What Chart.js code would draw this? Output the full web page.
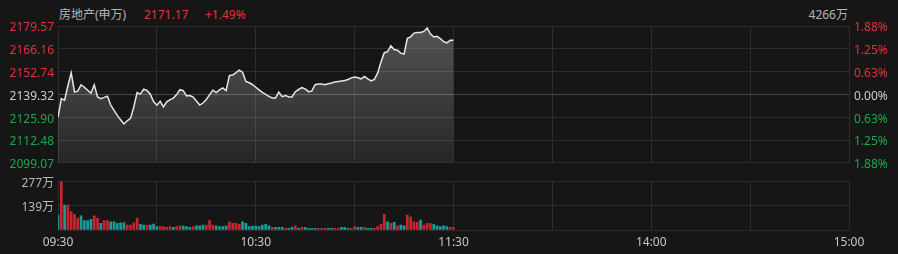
<!DOCTYPE html>
<html>
<head>
<meta charset="utf-8">
<script src="https://cdn.jsdelivr.net/npm/chart.js@4.4.1/dist/chart.umd.min.js"></script>
<style>
  html, body { margin: 0; padding: 0; background: #161616; }
  #wrap { position: relative; width: 898px; height: 254px; overflow: hidden; background: #161616;
          font-family: "Noto Sans", "Noto Sans CJK SC", sans-serif; font-size: 12px; }
  .hd { position: absolute; top: 7px; line-height: 15px; white-space: nowrap; }
  canvas { position: absolute; left: 0; }
</style>
</head>
<body>
<div id="wrap">
  <div class="hd" id="hName" style="left:59px;color:#b4b4b4;"></div>
  <div class="hd" id="hPrice" style="left:144px;color:#e0343c;"></div>
  <div class="hd" id="hPct" style="left:205px;color:#e0343c;"></div>
  <div class="hd" id="hVol" style="right:50px;color:#b4b4b4;"></div>
  <canvas id="priceChart" width="898" height="175" style="top:0px;"></canvas>
  <canvas id="volChart" width="898" height="84" style="top:170px;"></canvas>
</div>
<script>
// ---- header texts ----
const indexName = '房地产(申万)';
const lastPrice = '2171.17';
const lastPct = '+1.49%';
const totalVol = '4266万';

// ---- axes ----
const priceTicks = [2099.07, 2112.48, 2125.90, 2139.32, 2152.74, 2166.16, 2179.57];
const pctLabels = ['1.88%', '1.25%', '0.63%', '0.00%', '0.63%', '1.25%', '1.88%'];
const volTicks = [0, 139, 277];
const volTickLabels = ['', '139万', '277万'];
const gridMinutes = [0, 30, 60, 90, 120, 150, 180, 210, 240];
const timeLabels = ['09:30', '', '10:30', '', '11:30', '', '14:00', '', '15:00'];

// ---- series (one value per minute from 09:30) ----
const priceValues = [
  2125.81, 2136.85, 2135.98, 2144.41, 2151.96, 2140.75, 2141.21, 2144.99, 2143.54, 2141.79,
  2140.05, 2144.99, 2137.84, 2136.85, 2137.55, 2138.30, 2133.07, 2129.88, 2126.97, 2124.36,
  2121.92, 2123.77, 2125.23, 2131.91, 2140.34, 2139.47, 2142.37, 2141.68, 2139.47, 2135.11,
  2132.96, 2135.28, 2132.03, 2134.93, 2136.27, 2137.14, 2139.18, 2142.08, 2141.50, 2138.42,
  2138.60, 2137.72, 2135.40, 2133.07, 2134.24, 2136.27, 2139.18, 2141.79, 2140.34, 2141.97,
  2143.13, 2141.50, 2150.39, 2150.74, 2152.08, 2153.53, 2152.37, 2146.91, 2146.15, 2145.16,
  2143.54, 2141.97, 2140.46, 2139.29, 2138.13, 2137.26, 2137.26, 2140.63, 2138.01, 2138.71,
  2137.84, 2137.84, 2140.92, 2142.20, 2143.36, 2142.49, 2140.92, 2141.21, 2144.99, 2145.40,
  2145.40, 2144.99, 2145.57, 2145.98, 2146.56, 2146.96, 2147.14, 2147.49, 2148.07, 2149.06,
  2149.52, 2149.06, 2148.48, 2149.93, 2148.48, 2147.31, 2148.19, 2151.96, 2158.36, 2163.88,
  2164.46, 2167.95, 2165.74, 2165.33, 2163.59, 2163.01, 2172.30, 2173.18, 2175.39, 2175.79,
  2175.79, 2176.37, 2178.41, 2174.92, 2173.12, 2173.47, 2172.19, 2170.39, 2169.69, 2171.14,
  2171.17
];
const volValues = [
  85, 277, 141, 141, 104, 89, 66, 81, 53, 53,
  60, 81, 66, 38, 53, 53, 47, 47, 38, 41,
  41, 28, 28, 41, 66, 32, 28, 28, 28, 34,
  19, 19, 19, 15, 19, 15, 19, 24, 22, 19,
  15, 19, 24, 24, 28, 28, 53, 28, 24, 19,
  19, 24, 47, 38, 38, 32, 47, 38, 19, 22,
  22, 19, 28, 32, 24, 15, 15, 15, 15, 9,
  9, 15, 23, 9, 15, 15, 9, 9, 9, 9,
  9, 9, 9, 9, 9, 9, 15, 15, 9, 9,
  19, 15, 15, 15, 9, 9, 9, 19, 32, 89,
  47, 38, 43, 24, 28, 24, 85, 75, 47, 43,
  56, 28, 38, 38, 32, 24, 19, 24, 19, 15,
  15
];
// 1 = red (up) bar, 0 = teal (down) bar
const volUp = [
  0, 1, 0, 1, 1, 1, 1, 0, 0, 0,
  0, 1, 1, 0, 1, 1, 0, 0, 0, 0,
  0, 1, 1, 1, 1, 0, 0, 1, 0, 0,
  0, 1, 1, 1, 1, 0, 1, 1, 0, 0,
  0, 1, 0, 0, 0, 1, 1, 1, 0, 0,
  0, 0, 1, 1, 1, 1, 0, 0, 0, 0,
  0, 0, 0, 0, 0, 1, 0, 0, 0, 1,
  0, 0, 1, 0, 1, 0, 0, 0, 0, 1,
  1, 1, 0, 0, 1, 1, 0, 0, 0, 1,
  1, 0, 0, 1, 0, 0, 1, 1, 1, 1,
  0, 1, 0, 1, 0, 0, 1, 1, 1, 1,
  0, 1, 1, 1, 0, 0, 0, 0, 0, 1,
  1
];

// ---- style ----
const RED = '#e0343c';
const GREEN = '#1ea64c';
const MID = '#c9cdd3';
const GRID = '#2d2d2d';
const GRID_MID = '#474747';
const BAR_RED = '#c9252e';
const BAR_TEAL = '#1b9c96';
const FONT = { family: '"Noto Sans", "Noto Sans CJK SC", sans-serif', size: 12 };

document.getElementById('hName').textContent = indexName;
document.getElementById('hPrice').textContent = lastPrice;
document.getElementById('hPct').textContent = lastPct;
document.getElementById('hVol').textContent = totalVol;

const pricePoints = priceValues.map((v, i) => ({ x: i, y: v }));
const volPoints = volValues.map((v, i) => ({ x: i, y: v }));

function tickColor(idx) {
  if (idx < 3) return GREEN;
  if (idx === 3) return MID;
  return RED;
}
const setGridTicks = (scale) => { scale.ticks = gridMinutes.map(v => ({ value: v })); };

new Chart(document.getElementById('priceChart'), {
  type: 'line',
  data: {
    datasets: [{
      data: pricePoints,
      borderColor: '#e6e6e6',
      borderWidth: 1.5,
      pointRadius: 0,
      tension: 0,
      fill: 'start',
      backgroundColor: (ctx) => {
        const ca = ctx.chart.chartArea;
        if (!ca) return 'rgba(255,255,255,0.15)';
        const g = ctx.chart.ctx.createLinearGradient(0, ca.top, 0, ca.bottom);
        g.addColorStop(0, 'rgba(255,255,255,0.27)');
        g.addColorStop(1, 'rgba(255,255,255,0.07)');
        return g;
      }
    }]
  },
  options: {
    responsive: false,
    animation: false,
    devicePixelRatio: 1,
    layout: { padding: { top: 26, left: 0, right: 0, bottom: 0 } },
    plugins: { legend: { display: false }, tooltip: { enabled: false } },
    scales: {
      x: {
        type: 'linear', min: 0, max: 240,
        afterBuildTicks: setGridTicks,
        afterFit: (s) => { s.height = 10; },
        ticks: { display: false },
        grid: { color: GRID, drawTicks: false },
        border: { display: false }
      },
      y: {
        position: 'left',
        min: priceTicks[0], max: priceTicks[priceTicks.length - 1],
        afterBuildTicks: (s) => { s.ticks = priceTicks.map(v => ({ value: v })); },
        afterFit: (s) => { s.width = 58; },
        ticks: {
          font: FONT, padding: 4, labelOffset: 2,
          color: (ctx) => tickColor(ctx.index),
          callback: (v, i) => priceTicks[i].toFixed(2)
        },
        grid: { color: (ctx) => (ctx.index === 3 ? GRID_MID : GRID), drawTicks: false },
        border: { display: false }
      },
      y2: {
        position: 'right',
        min: priceTicks[0], max: priceTicks[priceTicks.length - 1],
        afterBuildTicks: (s) => { s.ticks = priceTicks.map(v => ({ value: v })); },
        afterFit: (s) => { s.width = 49; },
        ticks: {
          font: FONT, padding: 5, labelOffset: 2,
          color: (ctx) => tickColor(ctx.index),
          callback: (v, i) => pctLabels[i]
        },
        grid: { display: false, drawTicks: false },
        border: { display: false }
      }
    }
  }
});

new Chart(document.getElementById('volChart'), {
  type: 'bar',
  data: {
    datasets: [{
      data: volPoints,
      barThickness: 2,
      backgroundColor: (ctx) => (volUp[ctx.dataIndex] ? BAR_RED : BAR_TEAL),
      borderWidth: 0
    }]
  },
  options: {
    responsive: false,
    animation: false,
    devicePixelRatio: 1,
    layout: { padding: { top: 11, left: 0, right: 49, bottom: 0 } },
    plugins: { legend: { display: false }, tooltip: { enabled: false } },
    scales: {
      x: {
        type: 'linear', min: 0, max: 240, offset: false,
        afterBuildTicks: setGridTicks,
        afterFit: (s) => { s.height = 24; },
        ticks: {
          font: FONT, color: '#c8c8c8', padding: 5,
          autoSkip: false, maxRotation: 0,
          callback: (v, i) => timeLabels[i]
        },
        grid: { color: GRID, drawTicks: false, offset: false },
        border: { display: false }
      },
      y: {
        position: 'left', min: 0, max: volTicks[volTicks.length - 1],
        afterBuildTicks: (s) => { s.ticks = volTicks.map(v => ({ value: v })); },
        afterFit: (s) => { s.width = 58; },
        ticks: {
          font: FONT, color: '#b8b8b8', padding: 4, labelOffset: 2,
          callback: (v, i) => volTickLabels[i]
        },
        grid: { color: GRID, drawTicks: false },
        border: { display: false }
      }
    }
  }
});
</script>
</body>
</html>
